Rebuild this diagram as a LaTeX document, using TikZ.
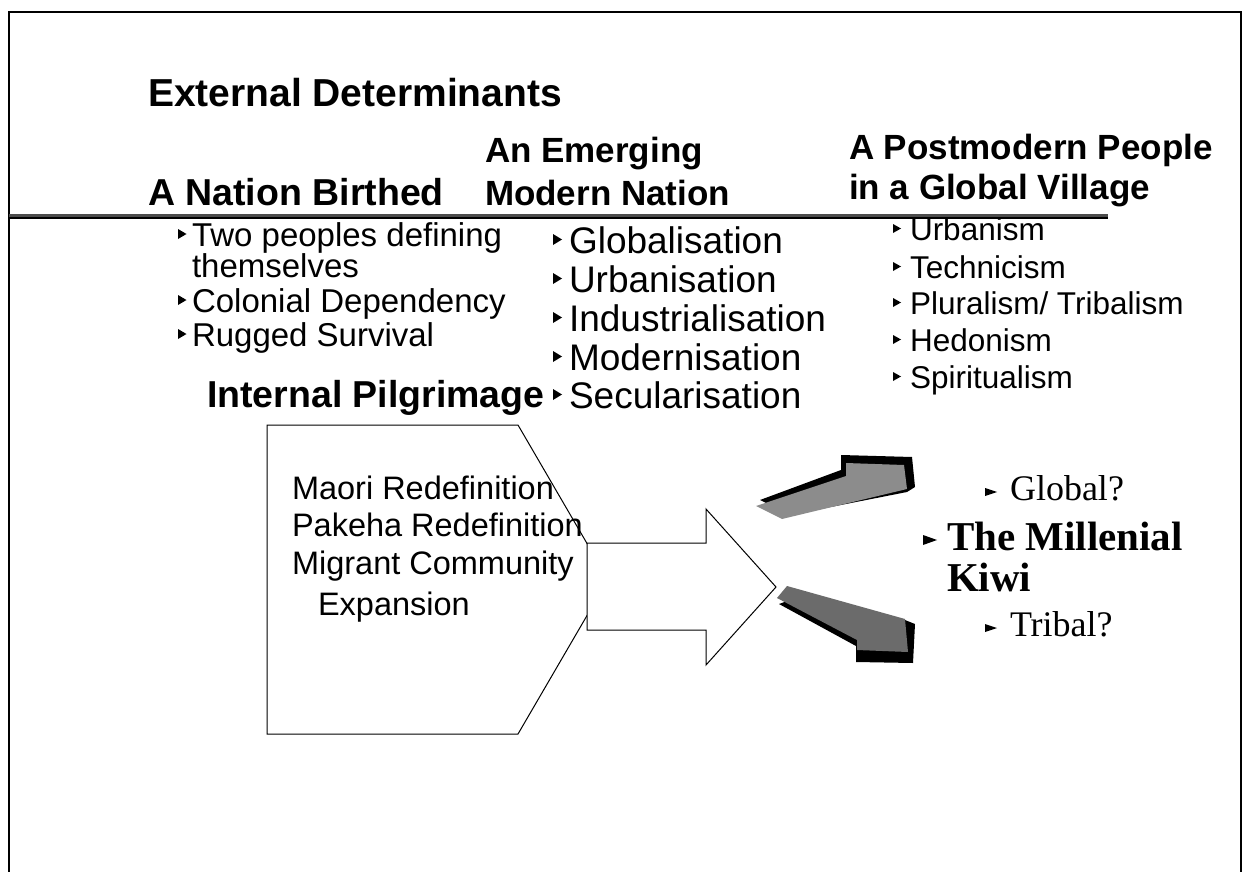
\documentclass[tikz,border=0pt]{standalone}
\usepackage{fontspec}
\usepackage{graphicx}
\setmainfont{Liberation Sans}
\newfontfamily\tms{Liberation Serif}
\newcommand\fs[1]{\fontsize{#1}{#1}\selectfont}
% bullet: bottom, mid, top, width, box width (all pt)
\newcommand\bul[5]{\makebox[#5][l]{\tikz[baseline=0pt]\fill[black] (0pt,#1) -- (#4,#2) -- (0pt,#3) -- cycle;}}
\newcommand\bL{\bul{7pt}{12pt}{17pt}{8.5pt}{14pt}}
\newcommand\bM{\bul{8pt}{13.5pt}{19pt}{9pt}{16pt}}
\newcommand\bR{\bul{7pt}{11.5pt}{16pt}{8pt}{17pt}}
\newcommand\bT{\bul{4pt}{8pt}{12pt}{12pt}{25pt}}
\newcommand\bK{\bul{5pt}{10pt}{15pt}{14pt}{24pt}}
\begin{document}
\begin{tikzpicture}[x=1pt,y=-1pt,
  txt/.style={anchor=base west,inner sep=0pt,outer sep=0pt},
  hdr/.style={txt,font=\bfseries\fs{35}},
  colL/.style={txt,font=\fs{33}},
  colM/.style={txt,font=\fs{37}},
  colR/.style={txt,font=\fs{31.5}},
  boxt/.style={txt,font=\fs{32.5}},
  serif/.style={txt,font=\tms\fs{36}},
  serifb/.style={txt,font=\tms\bfseries\fs{41}},
  thinline/.style={draw=black,line width=1pt,line join=miter},
  shadow/.style={fill=black},
  face/.style={fill=black!45}
]
\useasboundingbox (0,0) rectangle (1245,872);
\fill[white] (0,0) rectangle (1245,872);
% frame
\coordinate (fbl) at (9,880);
\coordinate (ftl) at (9,12);
\coordinate (ftr) at (1241,12);
\coordinate (fbr) at (1241,880);
\draw[line width=2.2pt] (fbl) -- (ftl) -- (ftr) -- (fbr);
% rule
\coordinate (r1) at (9,216);
\coordinate (r2) at (1108,216);
\draw[line width=5pt,black!70] (r1) -- (r2);
\draw[line width=2pt,black] ([yshift=-1.5pt]r1) -- ([yshift=-1.5pt]r2);

% headers
\node[hdr,font=\bfseries\fs{39}] (ext) at (148,107) {External Determinants};
\node[hdr,font=\bfseries\fs{37.5}] (nat) at (148,205) {A Nation Birthed};
\node[hdr] (em1) at (485,162) {An Emerging};
\node[hdr] (em2) at (485,205) {Modern Nation};
\node[hdr] (pm1) at (849,160) {A Postmodern People};
\node[hdr] (pm2) at (849,200) {in a Global Village};

% left column
\node[colL] (l1) at (178,246) {\bL Two peoples defining};
\node[colL] (l1b) at (192,277) {themselves};
\node[colL] (l2) at (178,312) {\bL Colonial Dependency};
\node[colL] (l3) at (178,346) {\bL Rugged Survival};
\node[hdr,font=\bfseries\fs{37.5}] (ip) at (207,407) {Internal Pilgrimage};

% middle column
\node[colM] (m1) at (553,253) {\bM Globalisation};
\node[colM] (m2) at (553,292) {\bM Urbanisation};
\node[colM] (m3) at (553,331) {\bM Industrialisation};
\node[colM] (m4) at (553,370) {\bM Modernisation};
\node[colM] (m5) at (553,408) {\bM Secularisation};

% right column
\node[colR] (q1) at (893,240) {\bR Urbanism};
\node[colR] (q2) at (893,278) {\bR Technicism};
\node[colR] (q3) at (893,314) {\bR Pluralism/ Tribalism};
\node[colR] (q4) at (893,351) {\bR Hedonism};
\node[colR] (q5) at (893,388) {\bR Spiritualism};

% pentagon
\coordinate (p1) at (267,425);
\coordinate (p2) at (518,425);
\coordinate (p3) at (608,579.5);
\coordinate (p4) at (518,734);
\coordinate (p5) at (267,734);
\draw[thinline] (p1) -- (p2) -- (p3) -- (p4) -- (p5) -- cycle;
\node[boxt] (b1) at (292,499) {Maori Redefinition};
\node[boxt] (b2) at (292,536) {Pakeha Redefinition};
\node[boxt] (b3) at (292,574) {Migrant Community};
\node[boxt] (b4) at (318,615) {Expansion};

% block arrow
\coordinate (a1) at (587,543);
\coordinate (a2) at (706,543);
\coordinate (a3) at (706,509);
\coordinate (a4) at (776,587);
\coordinate (a5) at (706,665);
\coordinate (a6) at (706,630);
\coordinate (a7) at (587,630);
\draw[thinline,fill=white] (a1) -- (a2) -- (a3) -- (a4) -- (a5) -- (a6) -- (a7) -- cycle;

% upper 3D arrow
\fill[shadow] (760,500) -- (841,470) -- (841,455) -- (912,457) -- (915,487) -- (907,492) -- (790,515) -- cycle;
\fill[face] (756,506) -- (846,476) -- (846,463) -- (904,465) -- (907,489) -- (782,519) -- cycle;
% lower 3D arrow
\fill[shadow] (779,604) -- (856,646) -- (856,662) -- (913,663) -- (915,624) -- (905,620) -- (790,600) -- cycle;
\fill[face,fill=black!58] (787,586) -- (905,619) -- (908,652) -- (857,650) -- (857,640) -- (777,598) -- cycle;

% right texts
\node[serif] (g) at (985,500) {\bT Global?};
\node[serifb] (mk1) at (923,550) {\bK The Millenial};
\node[serifb] (mk2) at (947,591) {Kiwi};
\node[serif] (t) at (985,636) {\bT Tribal?};
\end{tikzpicture}
\end{document}
